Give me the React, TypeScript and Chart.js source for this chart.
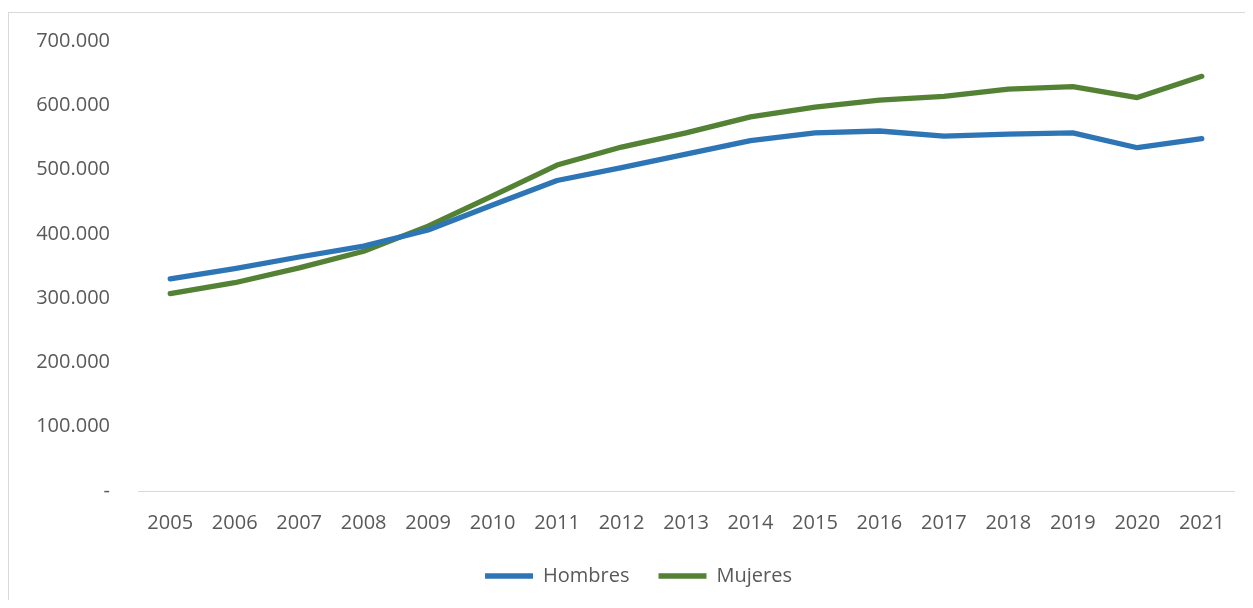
import React, { useEffect, useRef } from "react";
import { Chart, registerables } from "chart.js";

Chart.register(...registerables);

const years = ["2005","2006","2007","2008","2009","2010","2011","2012","2013","2014","2015","2016","2017","2018","2019","2020","2021"];
const hombres = [330000, 346000, 364000, 381000, 406000, 445000, 483000, 503000, 524000, 545000, 557000, 560000, 552000, 555000, 557000, 534000, 548000];
const mujeres = [307000, 324000, 347000, 373000, 412000, 459000, 507000, 535000, 557000, 582000, 597000, 608000, 614000, 625000, 629000, 612000, 645000];
const seriesNames = ["Hombres", "Mujeres"];
const seriesColors = ["#2E75B6", "#548235"];
const yMax = 700000;
const yStep = 100000;

function formatTick(v: number): string {
  if (v === 0) return "-";
  return Math.round(v).toString().replace(/\B(?=(\d{3})+(?!\d))/g, ".");
}

const legendShift = {
  id: "legendShift",
  afterLayout(chart: any) {
    if (chart.legend) {
      chart.legend.left += 17;
      chart.legend.right += 17;
    }
  },
};

export default function App() {
  const ref = useRef<HTMLCanvasElement | null>(null);
  useEffect(() => {
    if (!ref.current) return;
    const chart = new Chart(ref.current, {
      type: "line",
      data: {
        labels: years,
        datasets: [hombres, mujeres].map((d, i) => ({
          label: seriesNames[i],
          data: d,
          borderColor: seriesColors[i],
          backgroundColor: seriesColors[i],
          borderWidth: 5.3,
          borderCapStyle: "round" as const,
          borderJoinStyle: "round" as const,
          pointRadius: 0,
          pointHoverRadius: 0,
          pointStyle: "line" as const,
          tension: 0,
          fill: false,
        })),
      },
      plugins: [legendShift],
      options: {
        animation: false,
        responsive: false,
        maintainAspectRatio: false,
        devicePixelRatio: 1,
        layout: { padding: { left: 0, top: 28, right: 11, bottom: 4 } },
        font: { family: "'Open Sans'", size: 20 },
        color: "#595959",
        plugins: {
          tooltip: { enabled: false },
          legend: {
            position: "bottom",
            labels: {
              usePointStyle: true,
              pointStyleWidth: 48,
              padding: 29,
              color: "#595959",
              font: { family: "'Open Sans'", size: 20 },
            },
          },
        },
        scales: {
          x: {
            offset: true,
            grid: { display: false, drawTicks: false },
            border: { display: true, color: "#D9D9D9", width: 1 },
            ticks: {
              color: "#595959",
              font: { family: "'Open Sans'", size: 20 },
              padding: 20,
              maxRotation: 0,
              autoSkip: false,
            },
            afterFit: (s: any) => { s.height = 46; },
          },
          y: {
            min: 0,
            max: yMax,
            grid: { display: false, drawTicks: false },
            border: { display: false },
            ticks: {
              stepSize: yStep,
              color: "#595959",
              font: { family: "'Open Sans'", size: 20 },
              padding: 28,
              callback: (v: any) => formatTick(Number(v)),
            },
            afterFit: (s: any) => {
              s.width = 129;
              s.paddingTop = 12;
              s.paddingBottom = 12;
            },
          },
        },
      },
    });
    return () => chart.destroy();
  }, []);
  return (
    <div style={{ paddingTop: 4 }}>
      <div style={{ borderTop: "1px solid #D9D9D9", borderLeft: "1px solid #D9D9D9", width: 1236, height: 587, background: "#fff" }}>
        <canvas ref={ref} width={1236} height={587} style={{ display: "block", width: 1236, height: 587 }} />
      </div>
    </div>
  );
}
